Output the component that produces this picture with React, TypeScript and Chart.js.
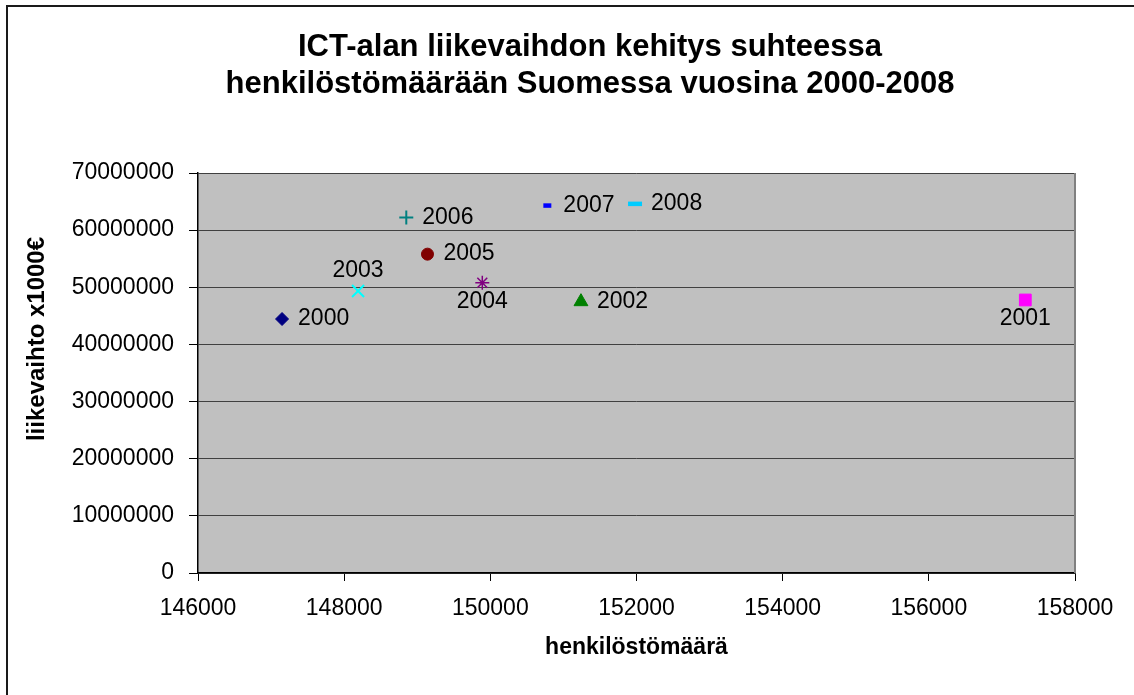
import React, { useEffect, useRef } from 'react';
import { Chart, registerables } from 'chart.js';

Chart.register(...registerables);

// ---- Data ----
const years = ['2000', '2001', '2002', '2003', '2004', '2005', '2006', '2007', '2008'];
const staffCount = [147150, 157320, 151240, 148190, 149890, 149140, 148850, 150780, 151980];
const turnover = [44450000, 47780000, 47480000, 49350000, 50800000, 55800000, 62200000, 64300000, 64600000];

const titleLines = ['ICT-alan liikevaihdon kehitys suhteessa', 'henkilöstömäärään Suomessa vuosina 2000-2008'];
const xAxisTitle = 'henkilöstömäärä';
const yAxisTitle = 'liikevaihto x1000€';

const xMin = 146000;
const xMax = 158000;
const xStep = 2000;
const yMin = 0;
const yMax = 70000000;
const yStep = 10000000;

// ---- Styles ----
const pointStyles = ['rectRot', 'rect', 'triangle', 'crossRot', 'star', 'circle', 'cross', 'line', 'line'];
const pointColors = ['#000080', '#FF00FF', '#008000', '#00FFFF', '#800080', '#800000', '#008080', '#0000FF', '#00CCFF'];
const pointRadii = [6.5, 8.3, 8, 8.5, 7, 6, 7, 4, 7];
const pointBorderWidths = [1, 1, 1, 2, 1.5, 1, 2, 4.5, 4.5];
const labelPositions = ['right', 'below', 'right', 'above', 'below', 'right', 'right', 'right', 'right'];

const FONT = '"Liberation Sans", Arial, Helvetica, sans-serif';

export default function App() {
  const canvasRef = useRef<HTMLCanvasElement | null>(null);

  useEffect(() => {
    const canvas = canvasRef.current;
    if (!canvas) return;

    const backgroundPlugin = {
      id: 'excelBackground',
      beforeDraw(chart: any) {
        const { ctx, chartArea: a, width, height } = chart;
        ctx.save();
        ctx.fillStyle = '#ffffff';
        ctx.fillRect(0, 0, width, height);
        ctx.fillStyle = '#C0C0C0';
        ctx.fillRect(a.left, a.top, a.right - a.left, a.bottom - a.top);
        ctx.strokeStyle = '#1a1a1a';
        ctx.lineWidth = 2;
        ctx.beginPath();
        ctx.moveTo(7, height);
        ctx.lineTo(7, 6);
        ctx.lineTo(width, 6);
        ctx.stroke();
        ctx.restore();
      },
      beforeDatasetsDraw(chart: any) {
        const { ctx, chartArea: a } = chart;
        ctx.save();
        ctx.strokeStyle = '#808080';
        ctx.lineWidth = 2;
        ctx.beginPath();
        ctx.moveTo(a.right, a.top);
        ctx.lineTo(a.right, a.bottom);
        ctx.stroke();
        ctx.restore();
      },
      afterDraw(chart: any) {
        const { ctx } = chart;
        ctx.save();
        ctx.fillStyle = '#000';
        ctx.textAlign = 'center';
        ctx.textBaseline = 'middle';
        // chart title
        ctx.font = `bold 31px ${FONT}`;
        ctx.fillText(titleLines[0], 590, 47);
        ctx.fillText(titleLines[1], 590, 84.6);
        // y-axis title
        ctx.translate(37, 339);
        ctx.rotate(-Math.PI / 2);
        ctx.font = `bold 24px ${FONT}`;
        ctx.fillText(yAxisTitle, 0, 0);
        ctx.restore();
      },
    };

    const labelPlugin = {
      id: 'pointLabels',
      afterDatasetsDraw(chart: any) {
        const { ctx } = chart;
        ctx.save();
        ctx.font = `23px ${FONT}`;
        ctx.fillStyle = '#000';
        ctx.textBaseline = 'middle';
        chart.data.datasets.forEach((ds: any, i: number) => {
          const meta = chart.getDatasetMeta(i);
          const el = meta.data[0];
          if (!el) return;
          const pos = labelPositions[i];
          let x = el.x;
          let y = el.y;
          if (pos === 'right') {
            ctx.textAlign = 'left';
            x += 16;
          } else if (pos === 'above') {
            ctx.textAlign = 'center';
            y -= 20;
          } else {
            ctx.textAlign = 'center';
            y += 19;
          }
          ctx.fillText(years[i], x, y);
        });
        ctx.restore();
      },
    };

    const datasets = years.map((yr, i) => ({
      label: yr,
      data: [{ x: staffCount[i], y: turnover[i] }],
      pointStyle: pointStyles[i] as any,
      backgroundColor: pointColors[i],
      borderColor: pointColors[i],
      pointRadius: pointRadii[i],
      pointBorderWidth: pointBorderWidths[i],
      showLine: false,
    }));

    const chart = new Chart(canvas, {
      type: 'scatter',
      data: { datasets },
      options: {
        animation: false,
        responsive: false,
        devicePixelRatio: 1,
        layout: { padding: { left: 0, right: 59, top: 173, bottom: 0 } },
        plugins: {
          legend: { display: false },
          tooltip: { enabled: false },
          title: { display: false },
        },
        scales: {
          x: {
            type: 'linear',
            position: 'bottom',
            min: xMin,
            max: xMax,
            afterFit: (scale: any) => {
              scale.height = 122;
            },
            ticks: {
              stepSize: xStep,
              autoSkip: false,
              maxRotation: 0,
              padding: 14,
              color: '#000',
              font: { family: FONT, size: 23 },
              callback: (v: any) => String(v),
            },
            grid: {
              drawOnChartArea: false,
              drawTicks: true,
              tickLength: 8,
              tickColor: '#000',
            },
            border: { display: true, color: '#000', width: 1.5 },
            title: {
              display: true,
              text: xAxisTitle,
              color: '#000',
              font: { family: FONT, size: 23, weight: 'bold' },
              padding: { top: 0, bottom: 34 },
            },
          },
          y: {
            type: 'linear',
            position: 'left',
            min: yMin,
            max: yMax,
            afterFit: (scale: any) => {
              scale.width = 198;
            },
            ticks: {
              stepSize: yStep,
              autoSkip: false,
              padding: 15,
              color: '#000',
              font: { family: FONT, size: 23 },
              callback: (v: any) => String(v),
            },
            grid: {
              color: '#404040',
              lineWidth: 1,
              drawTicks: true,
              tickLength: 9,
              tickColor: '#000',
            },
            border: { display: true, color: '#000', width: 1.5 },
          },
        },
      },
      plugins: [backgroundPlugin, labelPlugin],
    });

    return () => chart.destroy();
  }, []);

  return (
    <div style={{ position: 'absolute', left: 0, top: 0, width: 1134, height: 695 }}>
      <canvas ref={canvasRef} width={1134} height={695} style={{ display: 'block' }} />
    </div>
  );
}
